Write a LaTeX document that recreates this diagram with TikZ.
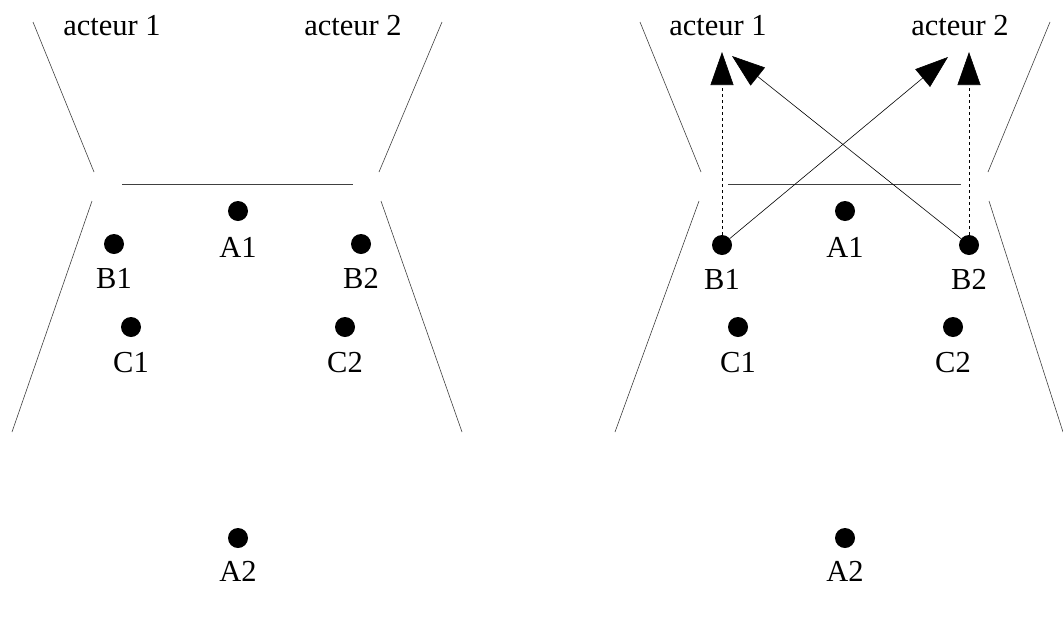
\documentclass[tikz,border=0pt]{standalone}
\usepackage{fontspec}
\setmainfont{Liberation Serif}
\usetikzlibrary{arrows.meta,positioning}

\begin{document}
\begin{tikzpicture}[x=1pt,y=1pt,font=\fontsize{30.5}{33}\selectfont]
  \tikzstyle{dot}=[circle,fill=black,inner sep=0pt,minimum size=20pt]
  \tikzstyle{tag}=[anchor=base,inner sep=0pt]
  \tikzstyle{border}=[draw=black!75,line width=0.6pt]
  \tikzstyle{link}=[-{Triangle[length=33pt,width=23pt]},black,line width=0.6pt]

  \useasboundingbox (0,0) rectangle (1063,-619);

  % situation initiale
  \begin{scope}
    \draw[border] (33,-22) -- (94,-172);
    \draw[border] (442,-22) -- (379,-172);
    \draw[border] (92,-201) -- (12,-432);
    \draw[border] (381,-201) -- (462,-432);
    \draw[border] (122,-184) -- (353,-184);

    \node[tag] (act1) at (112,-35) {acteur 1};
    \node[tag] (act2) at (353,-35) {acteur 2};

    \node[dot] (A1) at (238,-211) {};
    \node[dot] (B1) at (114,-244) {};
    \node[dot] (B2) at (361,-244) {};
    \node[dot] (C1) at (131,-327) {};
    \node[dot] (C2) at (345,-327) {};
    \node[dot] (A2) at (238,-538) {};

    \node[tag] (lA1) at ([yshift=-46pt]A1) {A1};
    \node[tag] (lB1) at ([yshift=-44pt]B1) {B1};
    \node[tag] (lB2) at ([yshift=-44pt]B2) {B2};
    \node[tag] (lC1) at ([yshift=-45pt]C1) {C1};
    \node[tag] (lC2) at ([yshift=-45pt]C2) {C2};
    \node[tag] (lA2) at ([yshift=-43pt]A2) {A2};
  \end{scope}

  % situation avec les liens
  \begin{scope}[xshift=607pt]
    \draw[border] (33,-22) -- (94,-172);
    \draw[border] (443,-22) -- (381,-172);
    \draw[border] (92,-201) -- (8,-432);
    \draw[border] (382,-201) -- (456,-432);
    \draw[border] (121,-184) -- (354,-184);

    \node[tag] (act1r) at (111,-35) {acteur 1};
    \node[tag] (act2r) at (353,-35) {acteur 2};

    \node[dot] (A1r) at (238,-211) {};
    \node[dot] (B1r) at (115,-245) {};
    \node[dot] (B2r) at (362,-245) {};
    \node[dot] (C1r) at (131,-327) {};
    \node[dot] (C2r) at (346,-327) {};
    \node[dot] (A2r) at (238,-538) {};

    \node[tag] (lA1r) at ([yshift=-46pt]A1r) {A1};
    \node[tag] (lB1r) at ([yshift=-44pt]B1r) {B1};
    \node[tag] (lB2r) at ([yshift=-44pt]B2r) {B2};
    \node[tag] (lC1r) at ([yshift=-45pt]C1r) {C1};
    \node[tag] (lC2r) at ([yshift=-45pt]C2r) {C2};
    \node[tag] (lA2r) at ([yshift=-43pt]A2r) {A2};

    \coordinate (u1) at (115,-52);
    \coordinate (v1) at (125,-56);
    \coordinate (u2) at (362,-52);
    \coordinate (v2) at (341,-57);

    \draw[link,dashed] (B1r) -- (u1);
    \draw[link,dashed] (B2r) -- (u2);
    \draw[link] (B1r) -- (v2);
    \draw[link] (B2r) -- (v1);
  \end{scope}
\end{tikzpicture}
\end{document}
